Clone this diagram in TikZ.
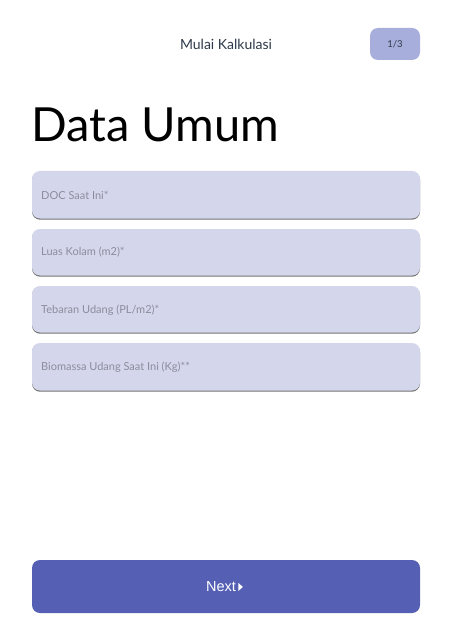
\documentclass[tikz,border=0pt]{standalone}
\usepackage{fontspec}
\setmainfont{Lato}
\newfontfamily\titlefont{Lato}
\newfontfamily\buttonfont{Liberation Sans}
\definecolor{fieldfill}{HTML}{D4D6EB}
\definecolor{badgefill}{HTML}{A8AEDB}
\definecolor{buttonfill}{HTML}{5560B5}
\definecolor{hinttext}{HTML}{8C8C9C}
\definecolor{headtext}{HTML}{2E3A4A}
\begin{document}
\begin{tikzpicture}[x=1pt,y=1pt,yscale=-1,xscale=1,
	field/.style={fill=fieldfill,rounded corners=8pt},
	fieldshade/.style={fill=black!55,rounded corners=8pt},
	hint/.style={anchor=west,inner sep=0pt,font=\fontsize{11}{13}\selectfont,text=hinttext}]
	\useasboundingbox[fill=white] (0,0) rectangle (454,620);
	
	% Header
	\node (head) at (226,44) [inner sep=0pt,font=\titlefont\fontsize{14}{16}\selectfont,text=headtext] {Mulai Kalkulasi};
	\fill [badgefill,rounded corners=8pt] (370,28) rectangle (420,60);
	\node (page) at (395,44) [inner sep=0pt,font=\fontsize{9.5}{11}\selectfont,text=headtext] {1/3};
	
	% Title
	\node (title) at (31,141.5) [anchor=base west,inner sep=0pt,font=\titlefont\fontsize{47}{52}\selectfont] {Data Umum};
	
	% Fields
	\fill [fieldshade] (32,172.2) rectangle (420,219.7);
	\fill [field] (32,171) rectangle (420,218.5);
	\node (doc) at (41,195) [hint] {DOC Saat Ini*};
	\fill [fieldshade] (32,230.2) rectangle (420,276.7);
	\fill [field] (32,229) rectangle (420,275.5);
	\node (luas) at (41,252.5) [hint] {Luas Kolam (m2)*};
	\fill [fieldshade] (32,287.2) rectangle (420,333.7);
	\fill [field] (32,286) rectangle (420,332.5);
	\node (tebar) at (41,310) [hint] {Tebaran Udang (PL/m2)*};
	\fill [fieldshade] (32,344.2) rectangle (420,391.7);
	\fill [field] (32,343) rectangle (420,390.5);
	\node (bio) at (41,367) [hint] {Biomassa Udang Saat Ini (Kg)**};
	
	% Button
	\fill [buttonfill,rounded corners=8pt] (32,560) rectangle (420,613);
	\node (next) at (224.5,587) [inner sep=0pt,text=white,font=\buttonfont\fontsize{14.5}{16}\selectfont] {Next\,\tikz[baseline=-5pt,x=1pt,y=1pt]\fill (0,-4) -- (4.5,0) -- (0,4) -- cycle;};
\end{tikzpicture}
\end{document}
